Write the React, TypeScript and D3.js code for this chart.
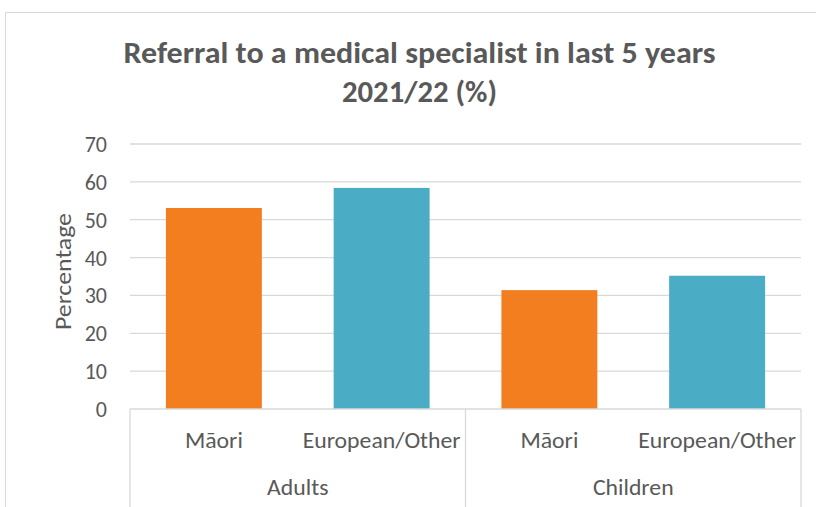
import React from "react";
import * as d3 from "d3";

const groups = ["Adults", "Children"];
const ethnicities = ["Māori", "European/Other"];
const values = [53.1, 58.4, 31.4, 35.2];
const colors = ["#F37E20", "#4BACC6"];
const yTicks = [0, 10, 20, 30, 40, 50, 60, 70];
const titleLines = ["Referral to a medical specialist in last 5 years", "2021/22 (%)"];
const yTitle = "Percentage";

const W = 816, H = 507;
const left = 130, right = 801, top = 144, bottom = 409;
const font = "Carlito, Calibri, 'Open Sans', sans-serif";
const txt = "#595959";
const grid = "#D9D9D9";

export default function App() {
  const cats = groups.flatMap((g) => ethnicities.map((e) => `${g}|${e}`));
  const x = d3.scaleBand<string>().domain(cats).range([left, right]).paddingInner(0.428).paddingOuter(0.214);
  const xo = d3.scaleBand<string>().domain(cats).range([left, right]);
  const gx = d3.scaleBand<string>().domain(groups).range([left, right]);
  const y = d3.scaleLinear().domain([0, 70]).range([bottom, top]);
  const sx = 1.08;

  return (
    <svg width={W} height={H} style={{ position: "absolute", left: 0, top: 0, background: "#fff" }}>
      <rect x={5.5} y={12.5} width={830} height={520} fill="#fff" stroke={grid} strokeWidth={1} />
      {titleLines.map((t, i) => (
        <text key={i} x={419.5} y={63 + i * 39} textAnchor="middle" fontFamily={font} fontWeight="bold" fontSize={30} fill={txt} textLength={i === 0 ? 592 : 155} lengthAdjust="spacingAndGlyphs">
          {t}
        </text>
      ))}
      {yTicks.map((t) => (
        <g key={t}>
          {t > 0 && <line x1={left} x2={right} y1={y(t)} y2={y(t)} stroke={grid} strokeWidth={1.3} />}
          <text x={107} y={y(t) + 8} textAnchor="end" fontFamily={font} fontSize={22} fill={txt}>{t}</text>
        </g>
      ))}
      <text transform={`translate(71,271.5) rotate(-90)`} textAnchor="middle" fontFamily={font} fontSize={22} fill={txt} textLength={117} lengthAdjust="spacingAndGlyphs">{yTitle}</text>
      {cats.map((c, i) => (
        <rect key={c} x={x(c)} y={y(values[i])} width={x.bandwidth()} height={bottom - y(values[i])} fill={colors[i % 2]} />
      ))}
      <line x1={left} x2={right} y1={bottom} y2={bottom} stroke={grid} strokeWidth={1.3} />
      {[left, gx(groups[1])!, right].map((v, i) => (
        <line key={i} x1={v} x2={v} y1={bottom} y2={H} stroke={grid} strokeWidth={1.3} />
      ))}
      {cats.map((c) => (
        <text key={c} transform={`translate(${xo(c)! + xo.bandwidth() / 2},448) scale(${sx},1)`} textAnchor="middle" fontFamily={font} fontSize={22} fill={txt}>{c.split("|")[1]}</text>
      ))}
      {groups.map((g) => (
        <text key={g} transform={`translate(${gx(g)! + gx.bandwidth() / 2},495) scale(${sx},1)`} textAnchor="middle" fontFamily={font} fontSize={22} fill={txt}>{g}</text>
      ))}
    </svg>
  );
}
